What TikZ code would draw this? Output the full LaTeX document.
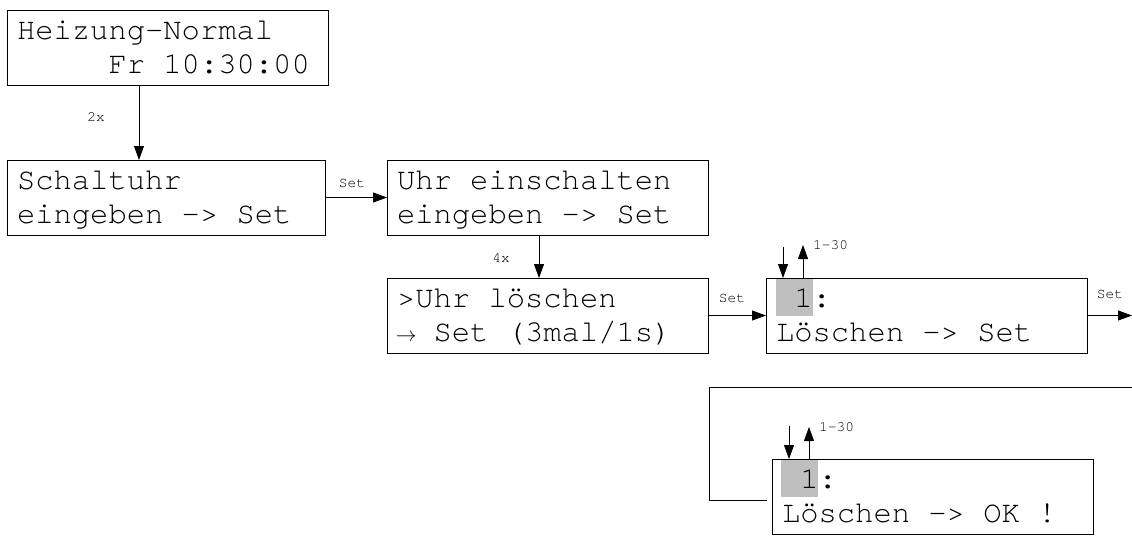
\documentclass[tikz,border=0pt]{standalone}
\usepackage{fontspec}
\newfontfamily\cur{TeX Gyre Cursor}
\usetikzlibrary{arrows.meta,backgrounds,calc}
\newcommand\topst{\rule{0pt}{25pt}}
\newcommand\botst{\rule[-8pt]{0pt}{8pt}}
\newcommand\fixsp{\spaceskip=0.6em\relax}
\newcommand\smallarr{\makebox[0.6em][c]{\fontsize{20}{20}\selectfont$\rightarrow$}}
\begin{document}
\begin{tikzpicture}[x=1pt,y=-1pt,
  box/.style={draw, line width=0.8pt, rectangle, anchor=north west, align=left,
    text width=301pt, inner xsep=10pt, inner ysep=4pt, outer sep=0pt,
    font=\cur\fontsize{30.5}{34}\selectfont, execute at begin node=\fixsp},
  lbl/.style={font=\cur\fontsize{14.5}{16}\selectfont, inner sep=0pt},
  arr/.style={line width=0.8pt, -{Triangle[length=14pt,width=10pt]}},
  ln/.style={line width=0.8pt},
  hl/.style={fill=black!25}]
\useasboundingbox (0,0) rectangle (1132,536);

\node[box] (A) at (7,10) {\topst Heizung-Normal\\\phantom{00000}Fr 10:30:00\botst};
\node[box, text width=298pt] (B) at (7,160) {\topst Schaltuhr\\eingeben -> Set\botst};
\node[box] (C) at (387,160) {\topst Uhr einschalten\\eingeben -> Set\botst};
\node[box] (D) at (387,278) {\topst >Uhr löschen\\\smallarr{} Set (3mal/1s)\botst};
\node[box] (E) at (766,278) {\topst\phantom{0}1:\\Löschen -> Set\botst};
\node[box] (F) at (772,459) {\topst\phantom{0}1:\\Löschen -> OK !\botst};

\begin{scope}[on background layer]
  \fill[hl] ($(E.north west)+(10,0)$) rectangle ($(E.north west)+(47,38)$);
  \fill[hl] ($(F.north west)+(9,0)$) rectangle ($(F.north west)+(46,38)$);
\end{scope}

% A -> B
\coordinate (a1) at ($(A.south west)+(132,0)$);
\draw[arr] (a1) -- (a1 |- B.north);
\node[lbl] (l2x) at (96,117) {2x};

% B -> C
\draw[arr] (B.east) -- (C.west);
\node[lbl] (lset1) at (352,183) {Set};

% C -> D
\coordinate (c1) at ($(C.south west)+(152,0)$);
\draw[arr] (c1) -- (c1 |- D.north);
\node[lbl] (l4x) at (501,258) {4x};

% D -> E
\draw[arr] (D.east) -- (E.west);
\node[lbl] (lset2) at (732,298) {Set};

% E -> out
\coordinate (R1) at (1132,0);
\draw[arr] (E.east) -- (E.east -| R1);
\node[lbl] (lset3) at (1110,294) {Set};

% E up/down
\coordinate (e1) at ($(E.north west)+(17,-31)$);
\draw[arr] (e1) -- (e1 |- E.north);
\coordinate (e2) at ($(E.north west)+(37,0)$);
\coordinate (e2t) at ($(E.north west)+(37,-33)$);
\draw[arr] (e2) -- (e2t);
\node[lbl, anchor=west] (le) at ($(E.north west)+(47,-33)$) {1-30};

% loop back
\coordinate (R2) at (1132,387);
\coordinate (L) at (709,387);
\coordinate (fin) at ($(F.west)+(-5,4)$);
\draw[ln] (R2) -- (L) |- (fin);

% F up/down
\coordinate (f1) at ($(F.north west)+(17,-33)$);
\draw[arr] (f1) -- (f1 |- F.north);
\coordinate (f2) at ($(F.north west)+(37,0)$);
\coordinate (f2t) at ($(F.north west)+(37,-32)$);
\draw[arr] (f2) -- (f2t);
\node[lbl, anchor=west] (lf) at ($(F.north west)+(47,-32)$) {1-30};
\end{tikzpicture}
\end{document}
